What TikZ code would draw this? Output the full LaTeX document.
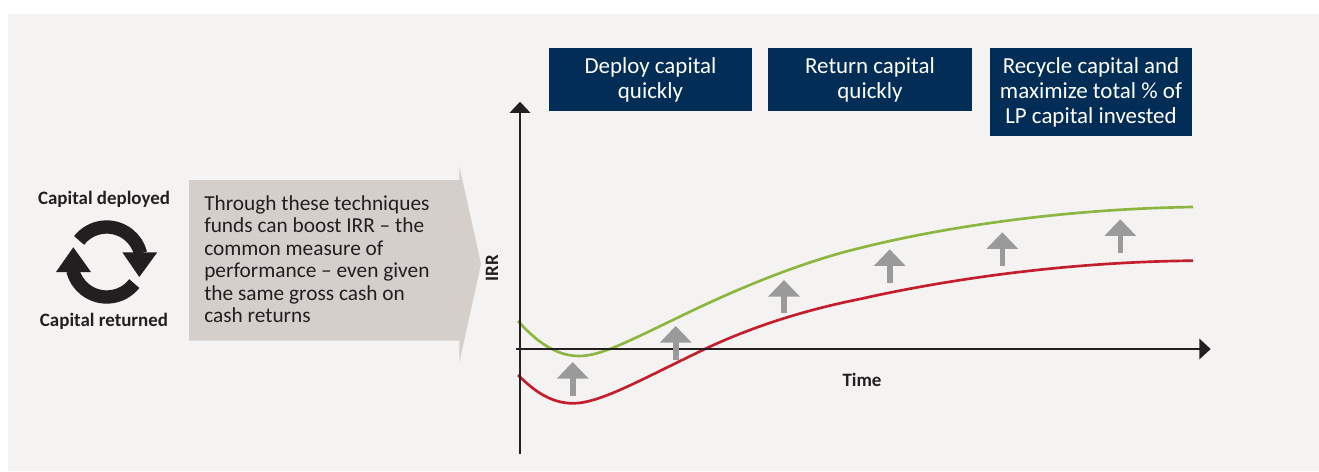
\documentclass[tikz,border=0pt]{standalone}
\usepackage{fontspec}
\setmainfont{Carlito}
\usetikzlibrary{arrows.meta}
\definecolor{pagebg}{HTML}{F4F3F1}
\definecolor{navy}{HTML}{012D57}
\definecolor{taupe}{HTML}{D5CFCB}
\definecolor{inkk}{HTML}{231F20}
\definecolor{curvegreen}{HTML}{8CB63F}
\definecolor{curvered}{HTML}{C41E2D}
\definecolor{upgray}{HTML}{9A9A9A}
\tikzset{
  headbox/.style={fill=navy,text=white,inner sep=0pt,align=center,font=\fontsize{17.2}{19}\selectfont},
  boldlabel/.style={inner sep=0pt,text=inkk,font=\fontsize{14.2}{16}\selectfont\bfseries},
  axisline/.style={draw=inkk,line width=2.2pt},
  curveline/.style={line width=2pt},
  liftarrow/.style={draw=upgray,line width=4.2pt,-{Triangle[length=12.4pt,width=23pt,fill=upgray]}},
  cyclearc/.style={draw=inkk,line width=10pt},
}
\begin{document}
\begin{tikzpicture}[x=0.75pt,y=-0.75pt]
\useasboundingbox (0,0) rectangle (1319,471);
\fill[white] (0,0) rectangle (1319,471);
\fill[pagebg] (8,14) rectangle (1319,471);
% header boxes
\fill[navy] (549,48) rectangle (752,111);
\fill[navy] (768,48) rectangle (972,111);
\fill[navy] (990,48) rectangle (1192,136);
\node[headbox,fill=none] (b1) at (650.5,80) {Deploy capital\\quickly};
\node[headbox,fill=none] (b2) at (870,80) {Return capital\\quickly};
\node[headbox,fill=none] (b3) at (1091,92.5) {Recycle capital and\\maximize total \% of\\LP capital invested};
% pentagon
\fill[taupe] (189,180) -- (459.3,180) -- (459.3,166) -- (481,264) -- (459.3,362.7) -- (459.3,340.7) -- (189,340.7) -- cycle;
\node[anchor=north west,inner sep=0pt,align=left,text=inkk,font=\fontsize{16}{16.8}\selectfont] (body) at (204,195.5) {Through these techniques\\funds can boost IRR -- the\\common measure of\\performance -- even given\\the same gross cash on\\cash returns};
% cycle icon
\node[boldlabel] (dep) at (104,199) {Capital deployed};
\node[boldlabel] (ret) at (104,321) {Capital returned};
\coordinate (cc) at (106.7,262);
\draw[cyclearc] (cc) ++(142:26.25pt) arc[start angle=142,end angle=14,radius=26.25pt];
\draw[cyclearc] (cc) ++(322:26.25pt) arc[start angle=322,end angle=194,radius=26.25pt];
\fill[inkk] (122.3,252.3) -- (157.3,252.3) -- (139.3,277) -- cycle;
\fill[inkk] (73.3,247.3) -- (91,272) -- (56,272) -- cycle;
% curves
\draw[curveline,curvegreen] (518,321) .. controls (535,340) and (555,356) .. (579,356) .. controls (600,356) and (625,343) .. (677,318) .. controls (720,297) and (790,265) .. (860,248) .. controls (940,228) and (1060,209) .. (1193,207);
\draw[curveline,curvered] (518,375) .. controls (535,392) and (552,403.3) .. (573,403.3) .. controls (600,403.3) and (640,380) .. (707,348) .. controls (750,328) and (800,311) .. (860,299) .. controls (940,281) and (1060,262) .. (1193,260.7);
% axes
\coordinate (ybot) at (520,454);
\coordinate (ytop) at (520,101.7);
\coordinate (xleft) at (516,349);
\coordinate (xright) at (1210.7,349);
\draw[axisline,-{Triangle[length=8.3pt,width=15pt,fill=inkk]}] (ybot) -- (ytop);
\draw[axisline,-{Triangle[length=8.5pt,width=15pt,fill=inkk]}] (xleft) -- (xright);
\node[boldlabel,rotate=90] (irr) at (492,268) {IRR};
\node[boldlabel] (time) at (862,380) {Time};
% lift arrows
\foreach \px/\pt/\pb in {572.7/362/396,675.7/326/359.7,784/280/312.7,889.7/249.3/282.7,1002.3/232.3/265.7,1120.3/219.3/252.7}
  \draw[liftarrow] (\px,\pb) -- (\px,\pt);
\end{tikzpicture}
\end{document}
